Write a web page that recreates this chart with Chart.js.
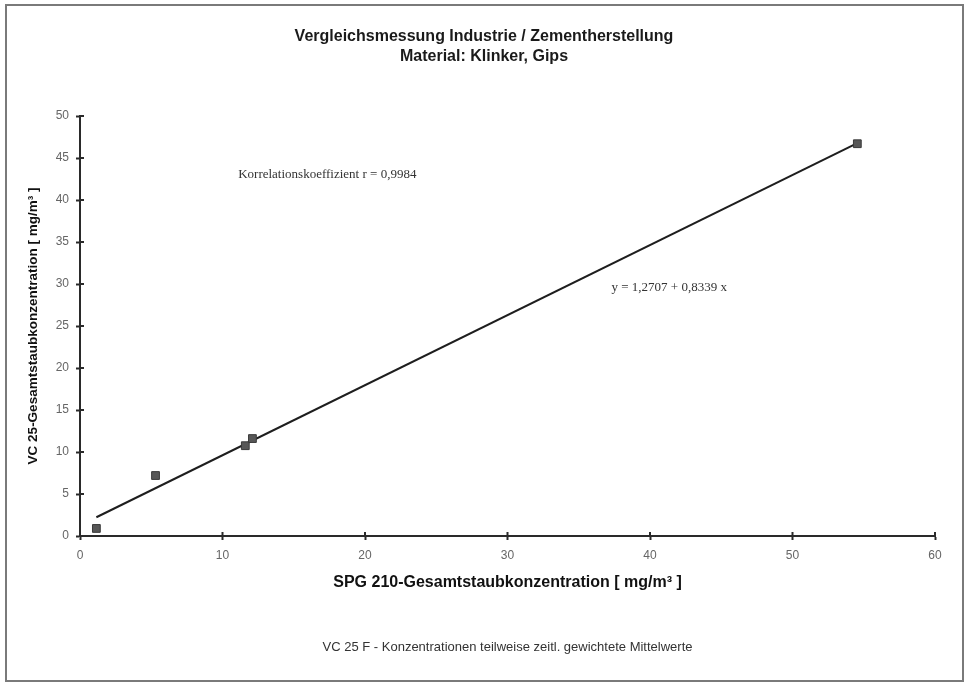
<!DOCTYPE html>
<html>
<head>
<meta charset="utf-8">
<title>Vergleichsmessung Industrie / Zementherstellung</title>
<script src="https://cdn.jsdelivr.net/npm/chart.js@4/dist/chart.umd.min.js"></script>
<style>
  html, body { margin: 0; padding: 0; background: #ffffff; }
  #wrap { width: 968px; height: 684px; }
</style>
</head>
<body>
<div id="wrap"><canvas id="chart" width="968" height="684"></canvas></div>
<script>
// Paired measurements: SPG 210 (x) against VC 25 (y), mg/m³
const spgValues = [1.15, 5.3, 11.6, 12.1, 54.55];
const vcValues  = [0.9, 7.2, 10.75, 11.6, 46.7];

// Regression result as printed on the chart
const intercept = 1.2707;
const slope = 0.8339;
const correlation = '0,9984';

// Axis ticks
const xTicks = [0, 10, 20, 30, 40, 50, 60];
const yTicks = [0, 5, 10, 15, 20, 25, 30, 35, 40, 45, 50];

// Texts
const titleLines = ['Vergleichsmessung Industrie / Zementherstellung', 'Material: Klinker, Gips'];
const xTitle = 'SPG 210-Gesamtstaubkonzentration [ mg/m³ ]';
const yTitle = 'VC 25-Gesamtstaubkonzentration [ mg/m³ ]';
const footNote = 'VC 25 F - Konzentrationen teilweise zeitl. gewichtete Mittelwerte';
const correlationText = 'Korrelationskoeffizient r = ' + correlation;
const equationText = 'y = 1,2707 + 0,8339 x';

// Where the two notes sit, in data units (left edge, vertical middle)
const correlationAt = [11.1, 43.0];
const equationAt = [37.3, 29.6];

const points = spgValues.map((x, i) => ({ x: x, y: vcValues[i] }));
const xFrom = Math.min(...spgValues);
const xTo = Math.max(...spgValues);
const fitLine = [
  { x: xFrom, y: intercept + slope * xFrom },
  { x: xTo,   y: intercept + slope * xTo }
];

const SANS = "'Liberation Sans', Arial, sans-serif";
const SERIF = "'Liberation Serif', 'Times New Roman', serif";

// White page with a grey frame around everything
const framePlugin = {
  id: 'frame',
  beforeDraw(chart) {
    const ctx = chart.ctx;
    ctx.save();
    ctx.fillStyle = '#ffffff';
    ctx.fillRect(0, 0, chart.width, chart.height);
    ctx.strokeStyle = '#7a7a7a';
    ctx.lineWidth = 2;
    ctx.strokeRect(6, 5, chart.width - 11, chart.height - 8);
    ctx.restore();
  }
};

// Tick marks that also reach into the plot area, so they cross the axis line
const innerTicksPlugin = {
  id: 'innerTicks',
  afterDraw(chart) {
    const ctx = chart.ctx;
    const xs = chart.scales.x, ys = chart.scales.y;
    ctx.save();
    ctx.strokeStyle = '#2a2a2a';
    ctx.lineWidth = 2;
    ctx.beginPath();
    xs.ticks.forEach((t, i) => {
      const px = xs.getPixelForTick(i);
      ctx.moveTo(px, ys.bottom);
      ctx.lineTo(px, ys.bottom - 4);
    });
    ys.ticks.forEach((t, i) => {
      const py = ys.getPixelForTick(i);
      ctx.moveTo(xs.left, py);
      ctx.lineTo(xs.left + 4, py);
    });
    ctx.stroke();
    ctx.restore();
  }
};

// Correlation coefficient and regression equation
const notesPlugin = {
  id: 'notes',
  afterDatasetsDraw(chart) {
    const ctx = chart.ctx;
    const xs = chart.scales.x, ys = chart.scales.y;
    ctx.save();
    ctx.font = '13px ' + SERIF;
    ctx.fillStyle = '#333333';
    ctx.textAlign = 'left';
    ctx.textBaseline = 'middle';
    ctx.fillText(correlationText, xs.getPixelForValue(correlationAt[0]), ys.getPixelForValue(correlationAt[1]));
    ctx.fillText(equationText, xs.getPixelForValue(equationAt[0]), ys.getPixelForValue(equationAt[1]));
    ctx.restore();
  }
};

new Chart(document.getElementById('chart'), {
  type: 'scatter',
  data: {
    datasets: [
      {
        type: 'line',
        label: 'Regression',
        data: fitLine,
        borderColor: '#1e1e1e',
        borderWidth: 2,
        pointRadius: 0,
        fill: false,
        order: 2
      },
      {
        label: 'Messwerte',
        data: points,
        pointStyle: 'rect',
        pointRadius: 5.5,
        pointHoverRadius: 5.5,
        backgroundColor: '#575757',
        borderColor: '#3a3a3a',
        borderWidth: 1,
        order: 1
      }
    ]
  },
  options: {
    responsive: false,
    devicePixelRatio: 1,
    animation: false,
    layout: { padding: { left: 0, right: 0, top: 0, bottom: 0 } },
    plugins: {
      legend: { display: false },
      tooltip: { enabled: false },
      title: {
        display: true,
        text: titleLines,
        color: '#1a1a1a',
        font: { family: SANS, size: 16, weight: 'bold', lineHeight: '20px' },
        padding: { top: 27, bottom: 49 }
      },
      subtitle: {
        display: true,
        position: 'bottom',
        fullSize: false,
        text: footNote,
        color: '#333333',
        font: { family: SANS, size: 13, weight: 'normal', lineHeight: '15px' },
        padding: { top: 44, bottom: 29 }
      }
    },
    scales: {
      x: {
        type: 'linear',
        min: 0,
        max: 60,
        afterBuildTicks(scale) { scale.ticks = xTicks.map(v => ({ value: v })); },
        afterFit(scale) { scale.height = 60; },
        grid: { drawOnChartArea: false, drawTicks: true, tickLength: 4, tickColor: '#2a2a2a', tickWidth: 2 },
        border: { display: true, color: '#2a2a2a', width: 2 },
        ticks: { color: '#666666', padding: 8, font: { family: SANS, size: 12 } },
        title: {
          display: true,
          text: xTitle,
          color: '#111111',
          font: { family: SANS, size: 16, weight: 'bold', lineHeight: '18px' },
          padding: { top: 0, bottom: 4 }
        }
      },
      y: {
        type: 'linear',
        min: 0,
        max: 50,
        afterBuildTicks(scale) { scale.ticks = yTicks.map(v => ({ value: v })); },
        afterFit(scale) { scale.width = 80; },
        grid: { drawOnChartArea: false, drawTicks: true, tickLength: 4, tickColor: '#2a2a2a', tickWidth: 2 },
        border: { display: true, color: '#2a2a2a', width: 2 },
        ticks: { color: '#666666', padding: 7, font: { family: SANS, size: 12 } },
        title: {
          display: true,
          text: yTitle,
          color: '#111111',
          font: { family: SANS, size: 13.5, weight: 'bold' },
          padding: { top: 25, bottom: 0 }
        }
      },
      // Empty margin on the right so the plot ends at 60 while the heading stays centred on the page
      yRight: {
        type: 'linear',
        position: 'right',
        min: 0,
        max: 50,
        afterFit(scale) { scale.width = 33; },
        grid: { display: false, drawTicks: false },
        border: { display: false },
        ticks: { display: false }
      }
    }
  },
  plugins: [framePlugin, innerTicksPlugin, notesPlugin]
});
</script>
</body>
</html>
